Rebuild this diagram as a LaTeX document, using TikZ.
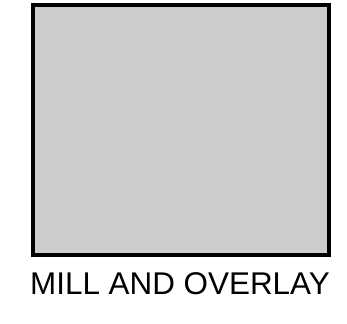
\documentclass[tikz,border=0pt]{standalone}
\usepackage{fontspec}
\setmainfont{Liberation Sans}
\usepackage{tikz}
\usetikzlibrary{calc,positioning}

\begin{document}
\begin{tikzpicture}[
        x=1pt, y=1pt,
        every node/.style={font=\fontsize{31.4}{36}\selectfont},
        panel/.style={draw=black, fill=black!20, line width=4pt,
                      minimum width=296pt, minimum height=250pt, inner sep=0pt}
      ]

        % Frame ----------------------------------------------------
        \useasboundingbox (0,0) rectangle (347,323);

        % Gray panel
        \node[panel] (mill) at (181,193) {};

        % Caption below the panel
        \node[anchor=base] (millLabel) at ($(mill.south)+(-1,-38)$) {MILL AND OVERLAY};

      \end{tikzpicture}
\end{document}
